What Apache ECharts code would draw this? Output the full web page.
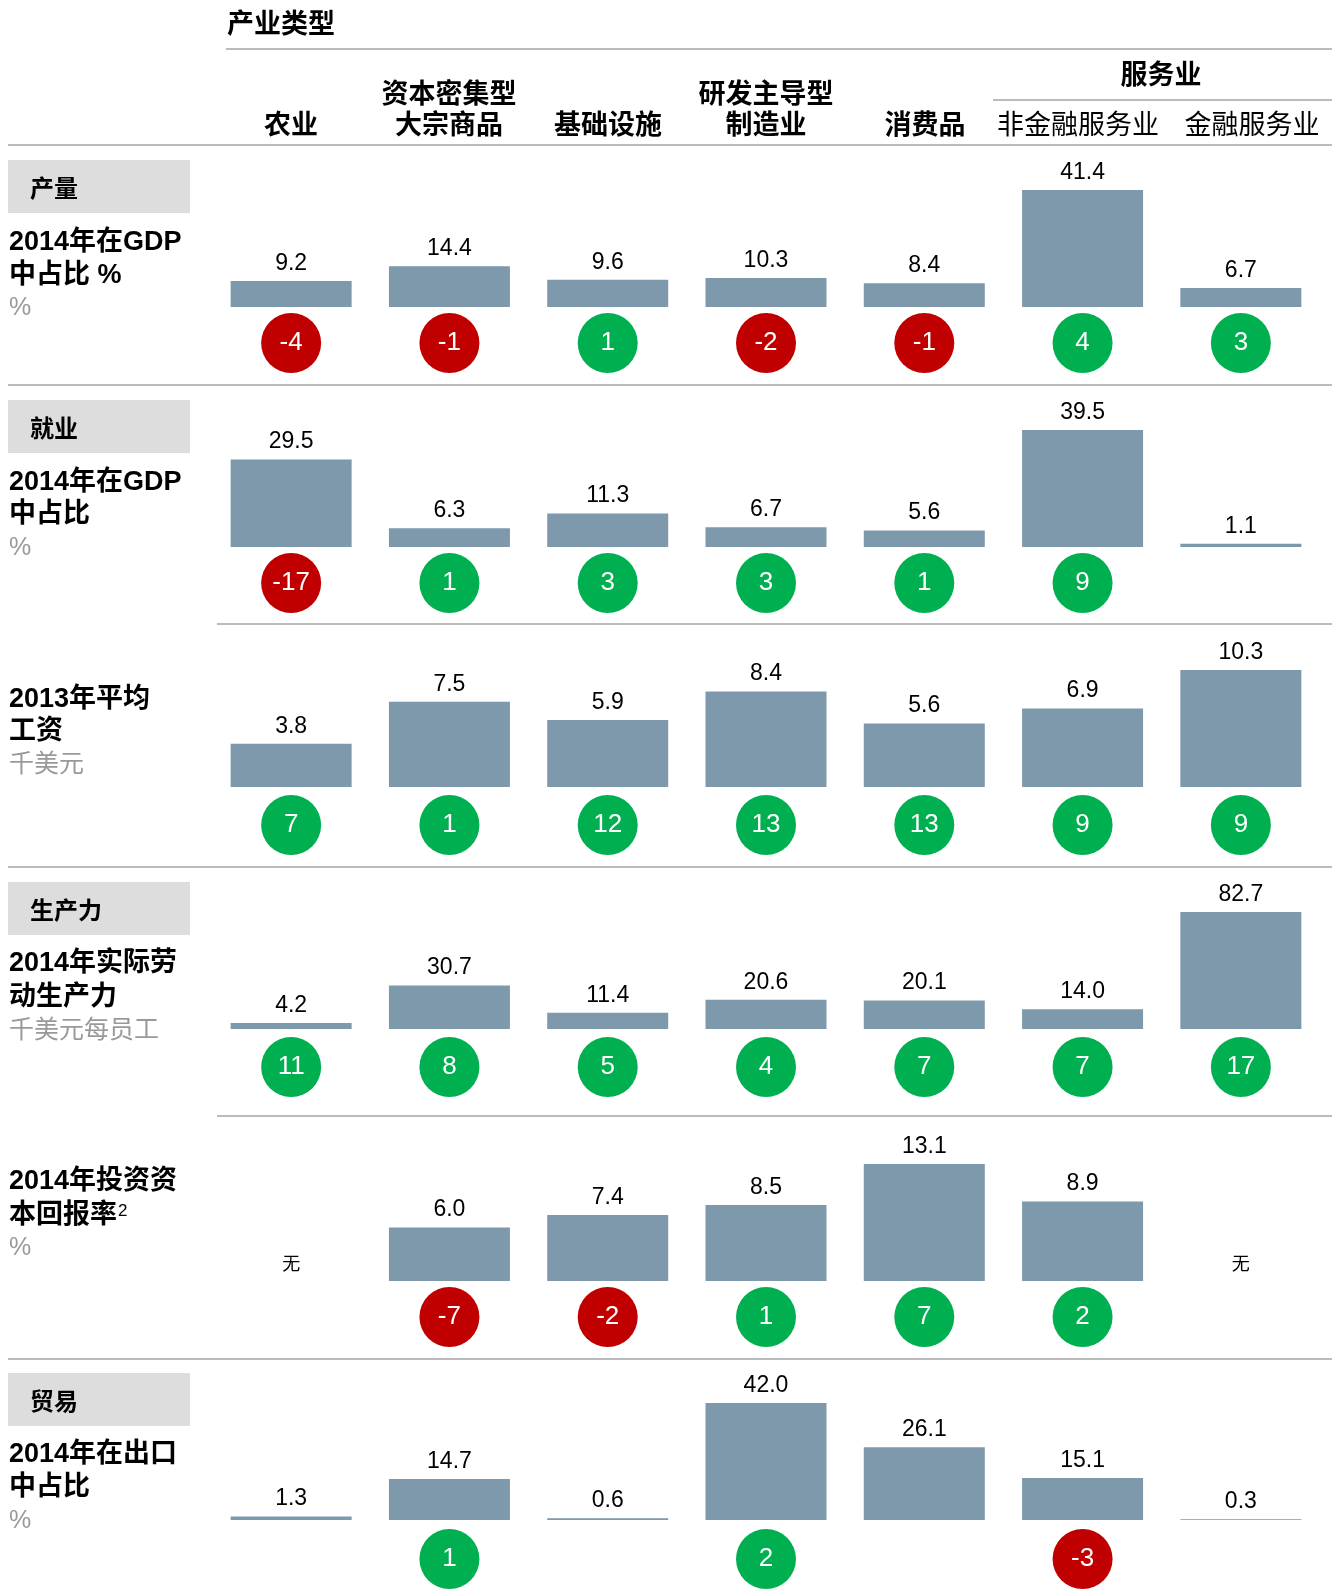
<!DOCTYPE html>
<html lang="zh">
<head>
<meta charset="utf-8">
<title>产业类型</title>
<script src="https://cdn.jsdelivr.net/npm/echarts@6/dist/echarts.min.js"></script>
<style>
  body { margin: 0; background: #fff; }
  #main { width: 1341px; height: 1596px; }
</style>
</head>
<body>
<div id="main"></div>
<script type="text/javascript">
// 数据
var categories = ['农业', '资本密集型大宗商品', '基础设施', '研发主导型制造业', '消费品', '非金融服务业', '金融服务业'];
var headTop = ['', '资本密集型', '', '研发主导型', '', '', ''];
var headBottom = ['农业', '大宗商品', '基础设施', '制造业', '消费品', '非金融服务业', '金融服务业'];

var gdpShare = [9.2, 14.4, 9.6, 10.3, 8.4, 41.4, 6.7];
var gdpChange = [-4, -1, 1, -2, -1, 4, 3];
var empShare = [29.5, 6.3, 11.3, 6.7, 5.6, 39.5, 1.1];
var empChange = [-17, 1, 3, 3, 1, 9, null];
var wages = [3.8, 7.5, 5.9, 8.4, 5.6, 6.9, 10.3];
var wageChange = [7, 1, 12, 13, 13, 9, 9];
var productivity = [4.2, 30.7, 11.4, 20.6, 20.1, 14.0, 82.7];
var prodChange = [11, 8, 5, 4, 7, 7, 17];
var roic = [null, 6.0, 7.4, 8.5, 13.1, 8.9, null];
var roicChange = [null, -7, -2, 1, 7, 2, null];
var exportShare = [1.3, 14.7, 0.6, 42.0, 26.1, 15.1, 0.3];
var exportChange = [null, 1, null, 2, null, -3, null];

var rows = [
    { values: gdpShare, change: gdpChange, base: 307, circle: 343 },
    { values: empShare, change: empChange, base: 547, circle: 583 },
    { values: wages, change: wageChange, base: 787, circle: 825 },
    { values: productivity, change: prodChange, base: 1029, circle: 1067 },
    { values: roic, change: roicChange, base: 1281, circle: 1317 },
    { values: exportShare, change: exportChange, base: 1520, circle: 1559 }
];

var BAR = '#7d99ab', RED = '#c00000', GREEN = '#00b050', LINE = '#bbbbbb';
var SANS = "'Liberation Sans', Arial, 'Noto Sans CJK SC'";
var CJK = "'Liberation Sans', 'Noto Sans CJK SC'";

var grid = [], xAxis = [], yAxis = [], series = [];
var gridLeft = 212, gridWidth = 1108, barH = 117;

rows.forEach(function (r, i) {
    // 柱状图
    grid.push({ left: gridLeft, width: gridWidth, top: r.base - barH, height: barH });
    xAxis.push({ type: 'category', gridIndex: 2 * i, data: categories, show: false });
    yAxis.push({ type: 'value', gridIndex: 2 * i, min: 0, max: 'dataMax', show: false });
    series.push({
        type: 'bar',
        xAxisIndex: 2 * i,
        yAxisIndex: 2 * i,
        barWidth: 121,
        itemStyle: { color: BAR },
        silent: true,
        label: {
            show: true,
            position: 'top',
            distance: 6,
            color: '#000',
            fontSize: 23,
            fontFamily: SANS,
            formatter: function (p) { return p.value.toFixed(1); }
        },
        data: r.values.map(function (v) {
            if (v == null) {
                return { value: 0, label: { formatter: '无', fontSize: 18, distance: 9, fontFamily: "'Noto Sans CJK SC'" } };
            }
            return v;
        })
    });

    // 变化圆圈
    grid.push({ left: gridLeft, width: gridWidth, top: r.circle - 30, height: 60 });
    xAxis.push({ type: 'category', gridIndex: 2 * i + 1, data: categories, show: false });
    yAxis.push({ type: 'value', gridIndex: 2 * i + 1, min: -1, max: 1, show: false });
    var pts = [];
    r.change.forEach(function (c, j) {
        if (c != null) pts.push([j, 0, c]);
    });
    series.push({
        type: 'scatter',
        xAxisIndex: 2 * i + 1,
        yAxisIndex: 2 * i + 1,
        symbolSize: 60,
        silent: true,
        itemStyle: {
            opacity: 1,
            color: function (p) { return p.value[2] < 0 ? RED : GREEN; }
        },
        label: {
            show: true,
            position: 'inside',
            color: '#fff',
            fontSize: 26,
            fontFamily: SANS,
            formatter: function (p) { return p.value[2]; }
        },
        data: pts
    });
});

// 表头、分隔线、左侧说明
var g = [];
function hline(y, x1, x2) {
    g.push({ type: 'line', shape: { x1: x1, y1: y, x2: x2, y2: y }, style: { stroke: LINE, lineWidth: 2 } });
}
function txt(x, y, s, opt) {
    opt = opt || {};
    g.push({
        type: 'text',
        style: {
            x: x, y: y + 3, text: s,
            align: opt.align || 'left',
            verticalAlign: 'middle',
            fill: opt.color || '#000',
            font: (opt.weight || 'bold') + ' ' + (opt.size || 27) + 'px ' + CJK
        }
    });
}
function box(y, label) {
    g.push({ type: 'rect', shape: { x: 8, y: y, width: 182, height: 53 }, style: { fill: '#dddddd' } });
    txt(30, y + 27, label, { size: 24 });
}

txt(227, 23, '产业类型');
hline(49, 226, 1332);
hline(100, 993, 1332);
hline(145, 8, 1332);
txt(1161, 74, '服务业', { align: 'center' });
var headX = [291, 449, 608, 766, 925, 1078, 1252];
headBottom.forEach(function (s, j) {
    var w = j >= 5 ? 'normal' : 'bold';
    txt(headX[j], 124, s, { align: 'center', weight: w });
    if (headTop[j]) txt(headX[j], 93, headTop[j], { align: 'center' });
});

hline(385, 8, 1332);
hline(624, 217, 1332);
hline(867, 8, 1332);
hline(1116, 217, 1332);
hline(1359, 8, 1332);

var GREY = '#999999';
var unit = { weight: 'normal', color: GREY, size: 25 };
box(160, '产量');
txt(9, 240, '2014年在GDP');
txt(9, 273, '中占比 %');
txt(9, 305, '%', unit);

box(400, '就业');
txt(9, 480, '2014年在GDP');
txt(9, 512, '中占比');
txt(9, 545, '%', unit);

txt(9, 697, '2013年平均');
txt(9, 729, '工资');
txt(9, 762, '千美元', unit);

box(882, '生产力');
txt(9, 961, '2014年实际劳');
txt(9, 995, '动生产力');
txt(9, 1028, '千美元每员工', unit);

txt(9, 1179, '2014年投资资');
g.push({
    type: 'text',
    style: {
        x: 9, y: 1216, verticalAlign: 'middle',
        text: '{a|本回报率}{s|2}',
        rich: {
            a: { font: 'bold 27px ' + CJK, fill: '#000' },
            s: { font: 'normal 17px ' + SANS, fill: '#000', verticalAlign: 'top', padding: [0, 0, 10, 1] }
        }
    }
});
txt(9, 1245, '%', unit);

box(1373, '贸易');
txt(9, 1452, '2014年在出口');
txt(9, 1485, '中占比');
txt(9, 1518, '%', unit);

var myChart = echarts.init(document.getElementById('main'));
var option = {
    backgroundColor: '#fff',
    animation: false,
    grid: grid,
    xAxis: xAxis,
    yAxis: yAxis,
    series: series,
    graphic: g
};
myChart.setOption(option);
</script>
</body>
</html>
